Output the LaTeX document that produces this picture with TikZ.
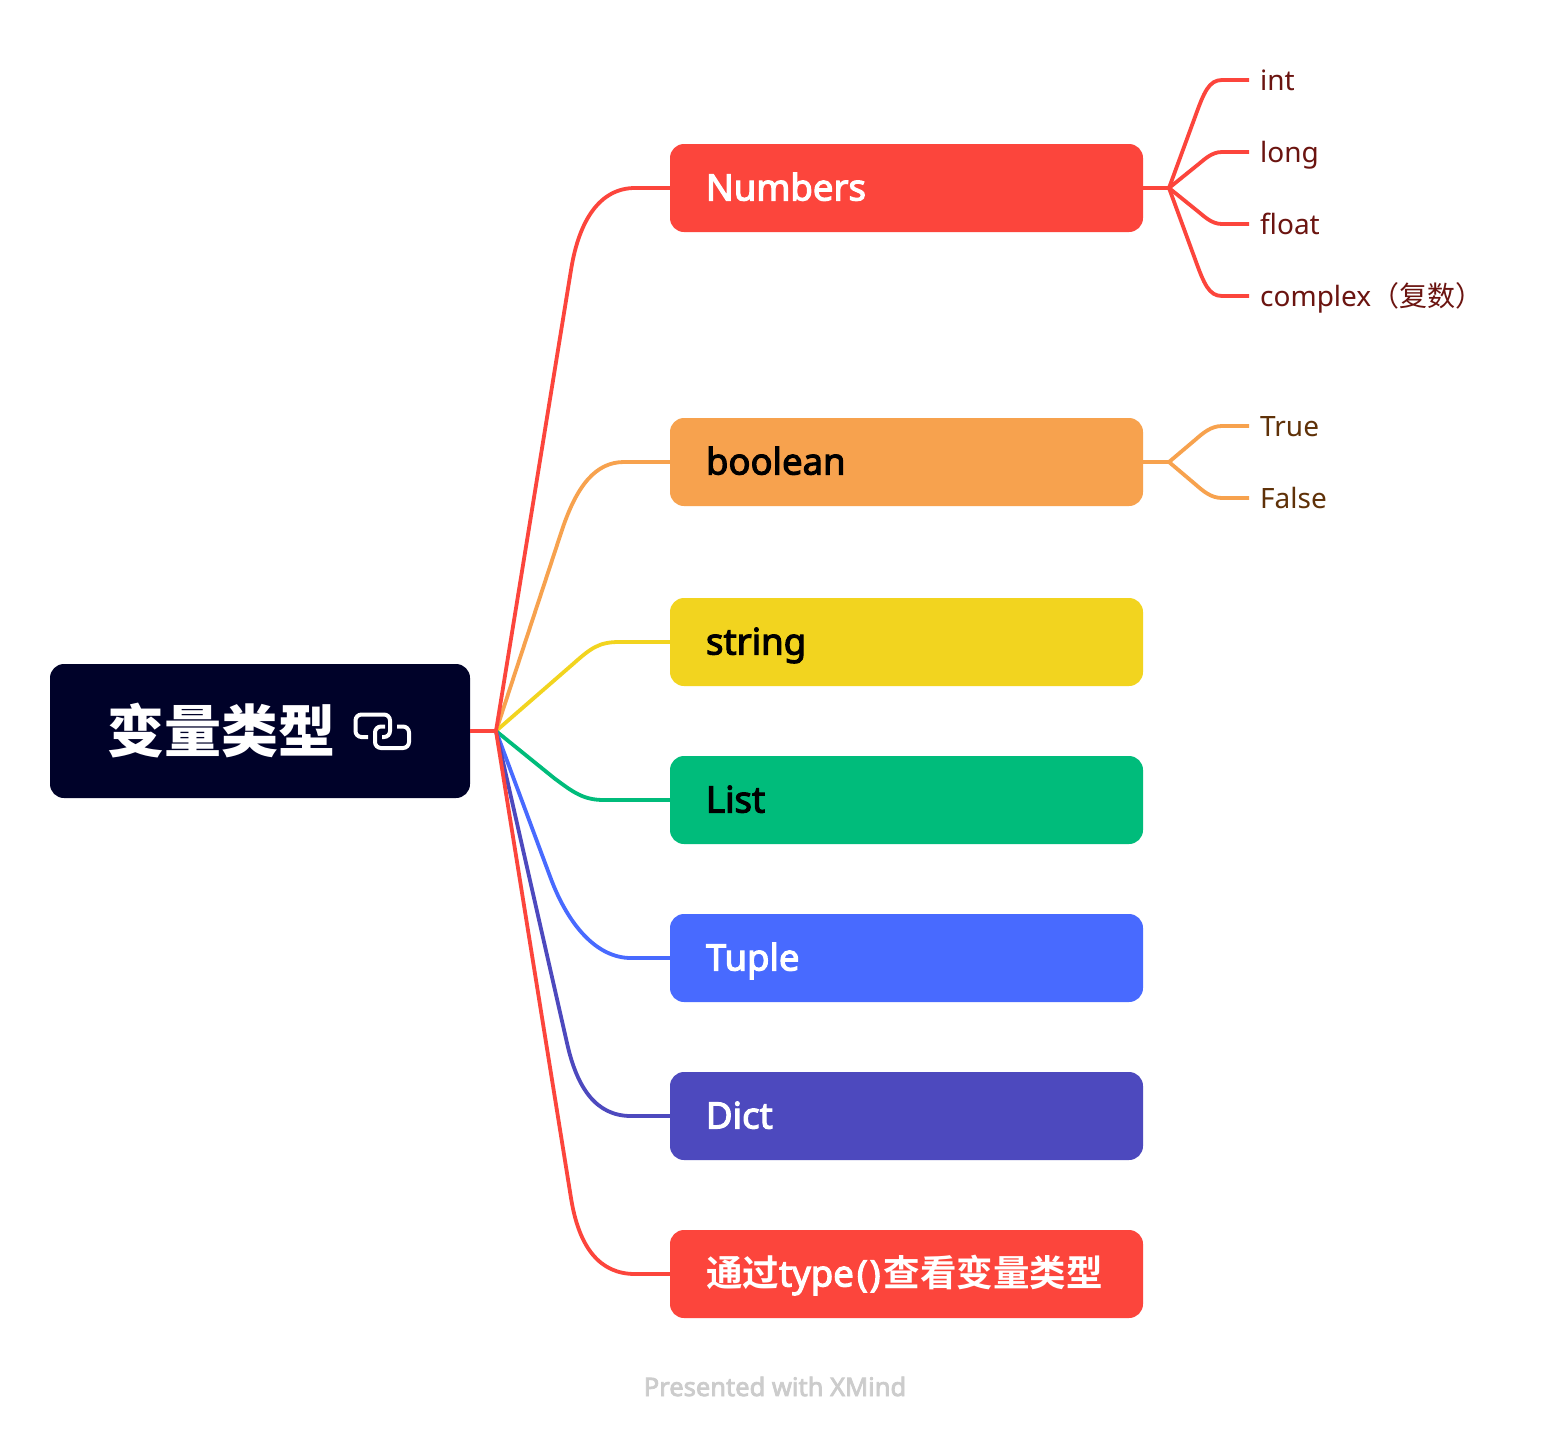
\documentclass[tikz,border=0pt]{standalone}
\usepackage{fontspec}
\setmainfont{Noto Sans}
\newfontfamily\latb[FakeBold=3]{Noto Sans}
\newfontfamily\cjk{Noto Sans CJK SC}
\newfontfamily\cjkb{Noto Sans CJK SC Bold}
\newfontfamily\cjkh{Noto Sans CJK SC Black}
\usetikzlibrary{calc}
\definecolor{cred}{HTML}{FC453C}
\definecolor{corange}{HTML}{F7A24E}
\definecolor{cyellow}{HTML}{F2D41F}
\definecolor{cgreen}{HTML}{00BC7B}
\definecolor{cblue}{HTML}{486AFF}
\definecolor{cindigo}{HTML}{4D49BE}
\definecolor{cnavy}{HTML}{000229}
\definecolor{tred}{HTML}{6B1410}
\definecolor{torange}{HTML}{5F3108}
\tikzset{
  x=1pt,y=-1pt,
  topicbox/.style={rounded corners=14pt,minimum height=88pt,minimum width=473pt,text width=401pt,text height=35pt,text depth=10pt,inner xsep=36pt,inner ysep=0pt,align=left,font=\fontsize{36.5}{40}\selectfont\latb},
  conn/.style={line width=3.8pt,line join=round},
  subtext/.style={anchor=west,inner sep=0pt,text height=28pt,text depth=8pt,font=\fontsize{28}{32}\selectfont},
}
\begin{document}
\begin{tikzpicture}
\useasboundingbox (0,0) rectangle (1550,1438);
\fill[white] (0,0) rectangle (1550,1438);
\coordinate (hub) at (496,731);
\coordinate (h1) at (1169,188);
\coordinate (h2) at (1169,462);
\node[fill=cnavy,rounded corners=14pt,minimum width=420pt,minimum height=134pt,inner sep=0pt] (root) at (260,731) {};
\node[anchor=west,inner sep=0pt,text=white,font=\fontsize{57}{60}\selectfont\cjkh] (rootlabel) at (107,731) {变量类型};
\node[topicbox,fill=cred,text=white] (numbers) at (906.5,188) {Numbers};
\node[topicbox,fill=corange,text=black] (boolean) at (906.5,462) {boolean};
\node[topicbox,fill=cyellow,text=black] (string) at (906.5,642) {string};
\node[topicbox,fill=cgreen,text=black] (list) at (906.5,800) {List};
\node[topicbox,fill=cblue,text=white] (tuple) at (906.5,958) {Tuple};
\node[topicbox,fill=cindigo,text=white] (dict) at (906.5,1116) {Dict};
\node[topicbox,fill=cred,text=white] (typeq) at (906.5,1274) {{\cjkb 通过}type\kern3pt(\kern2pt)\kern3pt{\cjkb 查看变量类型}};
\coordinate (e1) at (1249,80);\coordinate (e2) at (1249,152);\coordinate (e3) at (1249,224);\coordinate (e4) at (1249,296);
\coordinate (e5) at (1249,426);\coordinate (e6) at (1249,498);
\node[subtext,text=tred] (int) at (1260,80) {int};
\node[subtext,text=tred] (long) at (1260,152) {long};
\node[subtext,text=tred] (float) at (1260,224) {float};
\node[subtext,text=tred] (complex) at (1260,296) {complex{\cjk（复数）}};
\node[subtext,text=torange] (true) at (1260,426) {True};
\node[subtext,text=torange] (false) at (1260,498) {False};
\node[inner sep=0pt,text=black!20,text height=24pt,text depth=8pt,font=\fontsize{25.5}{28}\selectfont\latb] (brand) at (775,1388) {Presented with XMind};
% trunk connectors
\draw[conn,corange] (hub) -- ++(66,-201) .. controls ++(15,-45) and ++(-28,0) .. ++(62,-68) -- (boolean.west);
\draw[conn,cyellow] (hub) -- ++(77,-67) .. controls ++(18,-16) and ++(-20,0) .. ++(46,-22) -- (string.west);
\draw[conn,cgreen] (hub) -- ++(58,47) .. controls ++(20,15) and ++(-20,0) .. ++(50,22) -- (list.west);
\draw[conn,cblue] (hub) -- ++(55,148) .. controls ++(17,45) and ++(-35,0) .. ++(80,79) -- (tuple.west);
\draw[conn,cindigo] (hub) -- ++(71,312) .. controls ++(10,45) and ++(-35,0) .. ++(64,73) -- (dict.west);
\draw[conn,cred] (hub) -- ++(75,467) .. controls ++(8,50) and ++(-35,0) .. ++(64,76) -- (typeq.west);
\draw[conn,cred] (hub) -- ++(75,-461) .. controls ++(8,-50) and ++(-35,0) .. ++(64,-82) -- (numbers.west);
\draw[conn,cred] (root.east) -- (hub);
% sub connectors
\draw[conn,cred] (numbers.east) -- (h1);
\draw[conn,cred] (h1) -- ++(26,-71) .. controls ++(9,-25) and ++(-13,0) .. ++(27,-37) -- (e1);
\draw[conn,cred] (h1) -- ++(26,-21) .. controls ++(9,-7) and ++(-11,0) .. ++(27,-15) -- (e2);
\draw[conn,cred] (h1) -- ++(26,21) .. controls ++(9,7) and ++(-11,0) .. ++(27,15) -- (e3);
\draw[conn,cred] (h1) -- ++(26,71) .. controls ++(9,25) and ++(-13,0) .. ++(27,37) -- (e4);
\draw[conn,corange] (boolean.east) -- (h2);
\draw[conn,corange] (h2) -- ++(26,-22) .. controls ++(8,-7) and ++(-11,0) .. ++(27,-14) -- (e5);
\draw[conn,corange] (h2) -- ++(26,22) .. controls ++(8,7) and ++(-11,0) .. ++(27,14) -- (e6);
% link icon
\draw[white,line width=4pt,rounded corners=6pt] (368,737) -- (355.5,737) -- (355.5,714.5) -- (390,714.5) -- (390,737) -- (382,737);
\draw[white,line width=4pt,rounded corners=6pt] (397,726.5) -- (409,726.5) -- (409,748) -- (375,748) -- (375,726.5) -- (385,726.5);
\end{tikzpicture}
\end{document}
